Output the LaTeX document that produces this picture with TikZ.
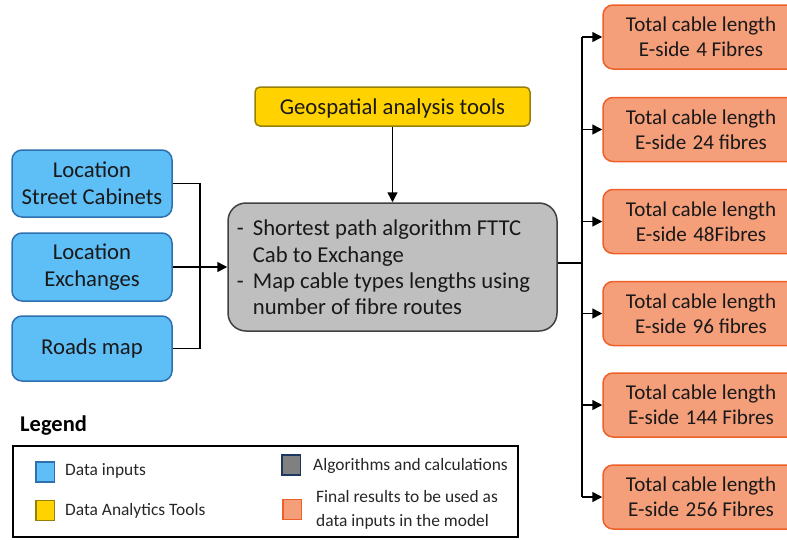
\documentclass[tikz,border=0pt]{standalone}
\usepackage{fontspec}
\setmainfont{Carlito}
\usetikzlibrary{arrows.meta}

\definecolor{infill}{RGB}{94,190,246}
\definecolor{indraw}{RGB}{46,112,176}
\definecolor{toolfill}{RGB}{255,210,0}
\definecolor{tooldraw}{RGB}{150,128,10}
\definecolor{algfill}{RGB}{191,191,191}
\definecolor{algdraw}{RGB}{64,64,64}
\definecolor{outfill}{RGB}{245,158,122}
\definecolor{outdraw}{RGB}{238,96,40}
\definecolor{leggray}{RGB}{128,128,128}
\definecolor{legnavy}{RGB}{30,55,95}

\newcommand{\gapsp}{\hspace{0.3em}}
% lower a box without changing its reported size
\newcommand{\lowerby}[2]{\raisebox{-#1}[\height][\depth]{#2}}

\tikzset{
  base/.style={line width=1.5pt, align=center, inner sep=0pt,
    font=\fontsize{22.7}{27}\selectfont, text=black!90},
  inbox/.style={base, draw=indraw, fill=infill, rounded corners=10pt,
    minimum width=160pt},
  toolbox/.style={base, draw=tooldraw, fill=toolfill, rounded corners=5pt,
    minimum width=275pt, minimum height=39pt},
  algbox/.style={base, draw=algdraw, fill=algfill, rounded corners=18pt,
    minimum width=329pt, minimum height=128pt, align=left,
    font=\fontsize{22.7}{26.4}\selectfont},
  outbox/.style={base, draw=outdraw, fill=outfill, rounded corners=10pt,
    minimum width=196pt, minimum height=64pt,
    font=\fontsize{21.1}{25}\selectfont},
  legsq/.style={line width=1.5pt, minimum width=18.5pt, minimum height=20pt, inner sep=0pt},
  legtext/.style={anchor=west, inner sep=0pt, align=left,
    font=\fontsize{17.4}{24}\selectfont, text=black!85},
  link/.style={line width=1.5pt},
  arrowlink/.style={line width=1.5pt, -{Triangle[length=10pt,width=10pt]}},
}

\begin{document}
\begin{tikzpicture}[x=1pt, y=-1pt]
\useasboundingbox (0,0) rectangle (787,539);
\begin{scope}
\clip (0,0) rectangle (787,539);

% data inputs
\node[inbox, minimum height=67pt] (cab)  at (92,183.5) {Location\\Street Cabinets};
\node[inbox, minimum height=68pt] (exch) at (92,267) {Location\\Exchanges};
\node[inbox, minimum height=65pt] (road) at (92,348.5) {Roads map};

% tools and algorithms
\node[toolbox] (geo) at (392.5,106.5) {\lowerby{2pt}{Geospatial analysis tools}};
\node[algbox] (alg) at (392.5,267) {%
  \lowerby{3pt}{\begin{tabular}{@{}l@{\hspace{9pt}}l@{}}
  - & Shortest path algorithm FTTC\\
    & Cab to Exchange\\
  - & Map cable types lengths using\\
    & number of fibre routes
  \end{tabular}}\hspace{18pt}};

% results
\node[outbox] (out1) at (701,37)    {Total cable length\\E-side\gapsp 4 Fibres};
\node[outbox] (out2) at (701,129.5) {Total cable length\\E-side\gapsp 24 fibres};
\node[outbox] (out3) at (701,221.5) {Total cable length\\E-side\gapsp 48Fibres};
\node[outbox] (out4) at (701,313.5) {Total cable length\\E-side\gapsp 96 fibres};
\node[outbox] (out5) at (701,405)   {Total cable length\\E-side\gapsp 144 Fibres};
\node[outbox] (out6) at (701,497)   {Total cable length\\E-side\gapsp 256 Fibres};

% junctions
\coordinate (jl) at (200,267);
\coordinate (jr) at (582,263);

% connectors into the algorithm box
\draw[link] (cab.east) -| (jl);
\draw[link] (road.east) -| (jl);
\draw[arrowlink] (exch.east) -- (alg.west);
\draw[arrowlink] (geo.south) -- (alg.north);

% bus to the results
\draw[link] (alg.east |- jr) -- (jr);
\draw[link] (out1.west -| jr) -- (out6.west -| jr);
\foreach \o in {out1,out2,out3,out4,out5,out6}
  \draw[arrowlink] (\o.west -| jr) -- (\o.west);

% legend
\node[anchor=west, inner sep=0pt, font=\fontsize{22.5}{26}\selectfont\bfseries] (legtitle) at (20,426) {Legend};
\node[draw=black, line width=1.5pt, minimum width=505pt, minimum height=91pt, inner sep=0pt] (legend) at (265.5,491.5) {};

\node[legsq, draw=indraw, fill=infill] (sqin) at (45,472) {};
\node[legtext] (txin) at (65,471) {Data inputs};
\node[legsq, draw=tooldraw, fill=toolfill] (sqtool) at (45,510.5) {};
\node[legtext] (txtool) at (65,511) {Data Analytics Tools};
\node[legsq, draw=legnavy, fill=leggray] (sqalg) at (291,465) {};
\node[legtext] (txalg) at (313,466) {Algorithms and calculations};
\node[legsq, draw=outdraw, fill=outfill] (sqout) at (292,509.5) {};
\node[legtext] (txout) at (316,510) {Final results to be used as\\data inputs in the model};
\end{scope}
\end{tikzpicture}
\end{document}
